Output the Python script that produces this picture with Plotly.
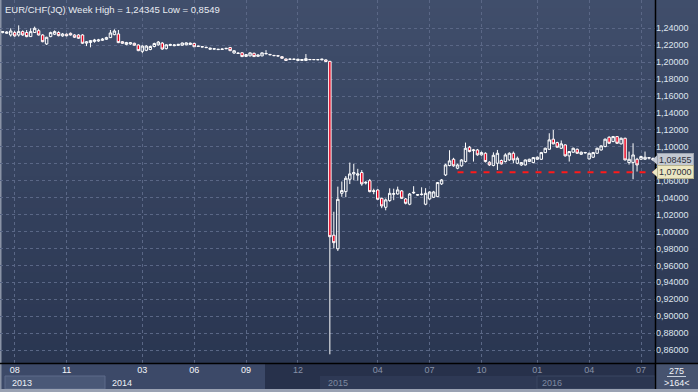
import plotly.graph_objects as go

# ---------------- data (weekly EUR/CHF bars) ----------------
open_ = [
    1.2352, 1.2341, 1.2321, 1.2349, 1.2321, 1.2361, 1.2350, 1.2302, 1.2350, 1.2372,
    1.2321, 1.2215, 1.2302, 1.2330, 1.2350, 1.2310, 1.2330, 1.2341, 1.2321, 1.2321,
    1.2321, 1.2225, 1.2232, 1.2245, 1.2250, 1.2258, 1.2270, 1.2290, 1.2325, 1.2333,
    1.2242, 1.2210, 1.2215, 1.2223, 1.2203, 1.2128, 1.2140, 1.2150, 1.2185, 1.2205,
    1.2225, 1.2160, 1.2198, 1.2195, 1.2198, 1.2200, 1.2205, 1.2208, 1.2222, 1.2190,
    1.2184, 1.2176, 1.2152, 1.2154, 1.2148, 1.2150, 1.2158, 1.2173, 1.2108, 1.2108,
    1.2111, 1.2068, 1.2075, 1.2105, 1.2069, 1.2074, 1.2098, 1.2092, 1.2080, 1.2076,
    1.2065, 1.2038, 1.2033, 1.2033, 1.2019, 1.2020, 1.2019, 1.2032, 1.2031, 1.2030,
    1.2027, 1.2027, 1.2010, 0.9956, 0.9795, 1.0451, 1.0471, 1.0617, 1.0680, 1.0665,
    1.0696, 1.0572, 1.0600, 1.0472, 1.0490, 1.0392, 1.0286, 1.0365, 1.0440, 1.0443,
    1.0479, 1.0384, 1.0322, 1.0455, 1.0430, 1.0436, 1.0322, 1.0384, 1.0404, 1.0412,
    1.0562, 1.0668, 1.0779, 1.0853, 1.0747, 1.0775, 1.0826, 1.0995, 1.0955, 1.0963,
    1.0905, 1.0924, 1.0818, 1.0780, 1.0806, 1.0838, 1.0826, 1.0845, 1.0924, 1.0806,
    1.0786, 1.0786, 1.0826, 1.0814, 1.0853, 1.0853, 1.0932, 1.0971, 1.1090, 1.1050,
    1.0983, 1.1023, 1.0893, 1.0936, 1.0971, 1.0912, 1.0928, 1.0857, 1.0877, 1.0924,
    1.0963, 1.1003, 1.1113, 1.1062, 1.1121, 1.1035, 1.1101, 1.0814, 1.0814, 1.0853,
    1.0853, 1.0853, 1.0866, 1.0862,
]
high = [
    1.2368, 1.2365, 1.2400, 1.2370, 1.24345, 1.2375, 1.2380, 1.2400, 1.2420, 1.2390,
    1.2330, 1.2300, 1.2360, 1.2375, 1.2365, 1.2345, 1.2340, 1.2350, 1.2330, 1.2330,
    1.2330, 1.2250, 1.2262, 1.2275, 1.2275, 1.2285, 1.2300, 1.2380, 1.2388, 1.2380,
    1.2250, 1.2240, 1.2238, 1.2230, 1.2210, 1.2200, 1.2200, 1.2195, 1.2230, 1.2250,
    1.2238, 1.2212, 1.2218, 1.2210, 1.2215, 1.2232, 1.2235, 1.2232, 1.2228, 1.2196,
    1.2190, 1.2182, 1.2170, 1.2164, 1.2156, 1.2160, 1.2168, 1.2180, 1.2140, 1.2115,
    1.2118, 1.2095, 1.2115, 1.2112, 1.2090, 1.2115, 1.2142, 1.2096, 1.2085, 1.2080,
    1.2070, 1.2042, 1.2040, 1.2040, 1.2040, 1.2036, 1.2096, 1.2036, 1.2035, 1.2034,
    1.2038, 1.2032, 1.2014, 1.0233, 1.0530, 1.0590, 1.0655, 1.0814, 1.0800, 1.0740,
    1.0725, 1.0595, 1.0620, 1.0505, 1.0500, 1.0400, 1.0390, 1.0510, 1.0505, 1.0530,
    1.0490, 1.0395, 1.0455, 1.0535, 1.0440, 1.0522, 1.0512, 1.0475, 1.0480, 1.0585,
    1.0620, 1.0800, 1.0960, 1.0870, 1.0800, 1.0855, 1.1050, 1.1010, 1.0975, 1.0975,
    1.0945, 1.0935, 1.0830, 1.0935, 1.0963, 1.0850, 1.0924, 1.0935, 1.0944, 1.0885,
    1.0820, 1.0850, 1.0860, 1.0880, 1.0885, 1.0940, 1.0990, 1.1160, 1.1199, 1.1060,
    1.1075, 1.1030, 1.0950, 1.0990, 1.0980, 1.0945, 1.0940, 1.0930, 1.0940, 1.0990,
    1.1018, 1.1098, 1.1125, 1.1128, 1.1128, 1.1110, 1.1108, 1.0944, 1.1042, 1.0870,
    1.0895, 1.0944, 1.0880, 1.0875,
]
low = [
    1.2340, 1.2335, 1.2302, 1.2300, 1.2302, 1.2310, 1.2294, 1.2298, 1.2345, 1.2315,
    1.2235, 1.2203, 1.2295, 1.2320, 1.2305, 1.2300, 1.2305, 1.2315, 1.2285, 1.2275,
    1.2215, 1.2190, 1.2175, 1.2230, 1.2240, 1.2250, 1.2262, 1.2285, 1.2318, 1.2225,
    1.2215, 1.2200, 1.2205, 1.2195, 1.2130, 1.2105, 1.2130, 1.2140, 1.2175, 1.2195,
    1.2145, 1.2150, 1.2190, 1.2188, 1.2192, 1.2195, 1.2200, 1.2202, 1.2178, 1.2180,
    1.2176, 1.2168, 1.2148, 1.2150, 1.2144, 1.2146, 1.2154, 1.2130, 1.2100, 1.2098,
    1.2060, 1.2060, 1.2068, 1.2062, 1.2064, 1.2070, 1.2094, 1.2082, 1.2072, 1.2070,
    1.2042, 1.2016, 1.2030, 1.2028, 1.2015, 1.2016, 1.2015, 1.2026, 1.2026, 1.2025,
    1.2023, 1.2005, 0.8549, 0.9800, 0.9770, 1.0410, 1.0405, 1.0560, 1.0605, 1.0600,
    1.0540, 1.0555, 1.0462, 1.0440, 1.0375, 1.0275, 1.0250, 1.0350, 1.0370, 1.0435,
    1.0385, 1.0320, 1.0310, 1.0445, 1.0420, 1.0425, 1.0310, 1.0375, 1.0395, 1.0405,
    1.0550, 1.0655, 1.0770, 1.0765, 1.0735, 1.0765, 1.0815, 1.0935, 1.0826, 1.0895,
    1.0895, 1.0815, 1.0775, 1.0770, 1.0727, 1.0790, 1.0815, 1.0835, 1.0806, 1.0795,
    1.0775, 1.0780, 1.0820, 1.0805, 1.0848, 1.0845, 1.0925, 1.0965, 1.1030, 1.0990,
    1.0975, 1.0885, 1.0826, 1.0930, 1.0918, 1.0905, 1.0920, 1.0850, 1.0870, 1.0918,
    1.0955, 1.0995, 1.1035, 1.1055, 1.1035, 1.1028, 1.0840, 1.0790, 1.0617, 1.0708,
    1.0845, 1.0848, 1.0850, 1.0838,
]
close = [
    1.2360, 1.2355, 1.2368, 1.2310, 1.2361, 1.2321, 1.2302, 1.2361, 1.2400, 1.2321,
    1.2242, 1.2294, 1.2349, 1.2361, 1.2313, 1.2333, 1.2312, 1.2321, 1.2294, 1.2282,
    1.2223, 1.2240, 1.2255, 1.2262, 1.2262, 1.2272, 1.2290, 1.2345, 1.2368, 1.2231,
    1.2223, 1.2232, 1.2230, 1.2200, 1.2136, 1.2190, 1.2190, 1.2185, 1.2220, 1.2238,
    1.2155, 1.2205, 1.2208, 1.2203, 1.2210, 1.2226, 1.2228, 1.2225, 1.2182, 1.2186,
    1.2180, 1.2172, 1.2165, 1.2158, 1.2152, 1.2155, 1.2163, 1.2136, 1.2135, 1.2104,
    1.2066, 1.2090, 1.2110, 1.2066, 1.2085, 1.2110, 1.2102, 1.2088, 1.2077, 1.2073,
    1.2046, 1.2020, 1.2036, 1.2035, 1.2035, 1.2031, 1.2042, 1.2030, 1.2030, 1.2029,
    1.2035, 1.2008, 0.9938, 0.9868, 1.0380, 1.0483, 1.0629, 1.0680, 1.0695, 1.0680,
    1.0562, 1.0580, 1.0471, 1.0480, 1.0380, 1.0302, 1.0373, 1.0451, 1.0446, 1.0491,
    1.0392, 1.0333, 1.0443, 1.0462, 1.0434, 1.0440, 1.0451, 1.0467, 1.0467, 1.0578,
    1.0609, 1.0786, 1.0834, 1.0775, 1.0786, 1.0845, 1.0983, 1.0944, 1.0963, 1.0905,
    1.0932, 1.0826, 1.0786, 1.0900, 1.0924, 1.0798, 1.0904, 1.0924, 1.0845, 1.0865,
    1.0814, 1.0845, 1.0853, 1.0873, 1.0877, 1.0932, 1.0983, 1.1082, 1.1035, 1.0995,
    1.1035, 1.0893, 1.0944, 1.0983, 1.0924, 1.0936, 1.0933, 1.0924, 1.0932, 1.0983,
    1.1011, 1.1090, 1.1042, 1.1121, 1.1042, 1.1101, 1.0845, 1.0853, 1.0904, 1.0786,
    1.0885, 1.0877, 1.0872, 1.08455,
]

month_tick_bars = [3, 16, 35, 48, 61, 74, 94, 107, 120, 134, 147, 160]
month_tick_labels = ["08", "11", "03", "06", "09", "12", "04", "07", "10", "01", "04", "07"]
month_tick_bright = [True, True, True, True, True, False, False, False, False, False, False, False]
year_labels = ["2013", "2014", "2015", "2016"]
year_bright = [True, True, False, False]
y_tick_values = [0.86 + 0.02 * i for i in range(20)]
level_value = 1.07
level_start_bar = 114
bars_total_text = "275"
bars_shown_text = ">164<"
symbol_text = "EUR/CHF(JQ) Week"

# ---------------- geometry / style ----------------
W, H = 698, 392
PW, PH = 655, 363          # plot area in pixels (left/top at 0)
n = len(close)
x = list(range(n))


def fmt(v):
    return ("%g" % v).replace(".", ",")


def px_x(px):
    return px / PW


def px_y(py):
    return (PH - py) / PH


FONT = "Liberation Sans, Arial, sans-serif"
shapes = []

# vertical gradient background
top_c = (64, 78, 107)
bot_c = (40, 52, 79)
nb = 49
for i in range(nb):
    t = i / (nb - 1)
    c = tuple(round(top_c[k] + (bot_c[k] - top_c[k]) * t) for k in range(3))
    y0 = i * H / nb
    y1 = (i + 1) * H / nb + 0.6
    shapes.append(dict(type="rect", xref="paper", yref="paper", layer="below",
                       x0=px_x(0), x1=px_x(W), y0=px_y(y1), y1=px_y(y0),
                       line=dict(width=0), fillcolor="rgb(%d,%d,%d)" % c))


def rect(x0, x1, y0, y1, fill, line=None, layer="below"):
    shapes.append(dict(type="rect", xref="paper", yref="paper", layer=layer,
                       x0=px_x(x0), x1=px_x(x1), y0=px_y(y1), y1=px_y(y0),
                       fillcolor=fill,
                       line=dict(width=1 if line else 0, color=line or "rgba(0,0,0,0)")))


# bottom time-axis panel
rect(0, W, 363, H, "#27314b")
rect(0, 265, 364, 389, "#3c4968")
rect(5, 105, 376, 389, "#4a5877", "#5d6b8a")
rect(320, 537, 376, 389, "#2e3955")
rect(537, 655, 376, 389, "#2b3651", "#3a4663")
rect(656, W, 364, 389, "#46536f")
rect(0, W, 389, H, "#9aa2b3")
rect(0, 1.5, 0, 389, "#8a93a6")

# separators
shapes.append(dict(type="line", xref="paper", yref="paper", x0=px_x(0), x1=px_x(W),
                   y0=px_y(363.5), y1=px_y(363.5), line=dict(color="#000000", width=1.5)))
shapes.append(dict(type="line", xref="paper", yref="paper", x0=px_x(655.5), x1=px_x(655.5),
                   y0=px_y(0), y1=px_y(389), line=dict(color="#000000", width=1.5)))
shapes.append(dict(type="line", xref="paper", yref="paper", x0=px_x(667), x1=px_x(686),
                   y0=px_y(376.5), y1=px_y(376.5), line=dict(color="#c8d0dc", width=1)))

# support level
shapes.append(dict(type="line", xref="x", yref="y", x0=level_start_bar, x1=n + 1,
                   y0=level_value, y1=level_value,
                   line=dict(color="#ff1a1a", width=2, dash="6px,7px")))

# value flags on the price axis
py_per_unit = 846.6
dy = 5.5 / py_per_unit
for val, fill in ((close[-1], "#c3c8d1"), (level_value, "#ece7c2")):
    shapes.append(dict(type="path", xref="paper", yref="y",
                       path="M %f,%f L %f,%f L %f,%f Z" % (px_x(658), val + dy, px_x(652), val,
                                                          px_x(658), val - dy),
                       fillcolor=fill, line=dict(width=0)))

annotations = [
    dict(text="%s High = %s Low = %s" % (symbol_text, fmt(max(high)), fmt(min(low))),
         xref="paper", yref="paper", x=px_x(3), y=px_y(2), xanchor="left", yanchor="top",
         showarrow=False, font=dict(family=FONT, size=9.5, color="#e8ecf2")),
]
for val, fill, border in ((close[-1], "#c3c8d1", "#9da4b0"), (level_value, "#ece7c2", "#b9b48f")):
    annotations.append(dict(text=("%.5f" % val).replace(".", ","), xref="paper", yref="y",
                            x=px_x(657), y=val, xanchor="left", yanchor="middle",
                            showarrow=False, bgcolor=fill, bordercolor=border, borderwidth=1,
                            borderpad=1, font=dict(family=FONT, size=9, color="#2a2f3a")))

year_px = [10, 110, 326, 540]
for lab, xp, bright in zip(year_labels, year_px, year_bright):
    annotations.append(dict(text=lab, xref="paper", yref="paper", x=px_x(xp), y=px_y(382.5),
                            xanchor="left", yanchor="middle", showarrow=False,
                            font=dict(family=FONT, size=9,
                                      color="#eef1f6" if bright else "#7f8aa0")))
annotations.append(dict(text=bars_total_text, xref="paper", yref="paper", x=px_x(676.5),
                        y=px_y(370.5), xanchor="center", yanchor="middle", showarrow=False,
                        font=dict(family=FONT, size=9, color="#f2f4f8")))
annotations.append(dict(text=bars_shown_text, xref="paper", yref="paper", x=px_x(676.5),
                        y=px_y(383), xanchor="center", yanchor="middle", showarrow=False,
                        font=dict(family=FONT, size=9, color="#f2f4f8")))

tick_text = ['<span style="color:%s">%s</span>' % ("#f4f6fa" if b else "#8792a8", t)
             for t, b in zip(month_tick_labels, month_tick_bright)]

fig = go.Figure(go.Candlestick(
    x=x, open=open_, high=high, low=low, close=close,
    increasing=dict(line=dict(color="#ffffff", width=1), fillcolor="rgba(0,0,0,0)"),
    decreasing=dict(line=dict(color="#ffffff", width=1), fillcolor="#e8001e"),
    whiskerwidth=0, hoverinfo="skip", showlegend=False,
))

grid = "#5a6786"
fig.update_layout(
    width=W, height=H,
    margin=dict(l=0, r=W - PW, t=0, b=H - PH, pad=0),
    paper_bgcolor="#2f3b57",
    plot_bgcolor="rgba(0,0,0,0)",
    separators=",.",
    boxgap=0.12,
    shapes=shapes,
    annotations=annotations,
    xaxis=dict(
        range=[-0.68, 163.5], rangeslider=dict(visible=False),
        tickmode="array", tickvals=month_tick_bars, ticktext=tick_text,
        showgrid=True, gridcolor=grid, griddash="3px,3px", gridwidth=1,
        zeroline=False, showline=False, ticks="",
        tickfont=dict(family=FONT, size=9, color="#f4f6fa"),
        fixedrange=True,
    ),
    yaxis=dict(
        side="right", range=[0.84465, 1.27343],
        tickmode="array", tickvals=y_tick_values, tickformat=".5f",
        showgrid=True, gridcolor=grid, griddash="3px,3px", gridwidth=1,
        zeroline=False, showline=False, ticks="",
        tickfont=dict(family=FONT, size=9, color="#dfe5ef"),
        fixedrange=True,
    ),
    showlegend=False,
)

fig.write_html("out.html", config=dict(displayModeBar=False),
               post_script="document.body.style.margin='0';document.body.style.padding='0';")
